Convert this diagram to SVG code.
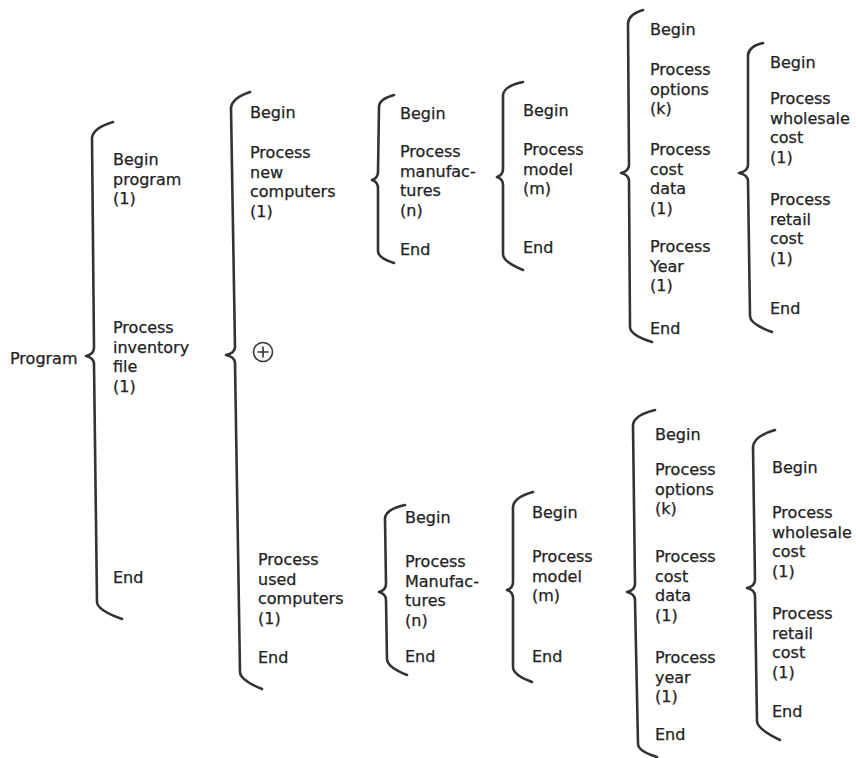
<svg xmlns="http://www.w3.org/2000/svg" width="856" height="758" viewBox="0 0 856 758">
<style>
.t { font-family: "DejaVu Sans", "Noto Sans", sans-serif; font-size: 16px; fill: #222; stroke: #222; stroke-width: 0.25; }
.b { fill: none; stroke: #333; stroke-width: 2.6; stroke-linecap: round; stroke-linejoin: round; }
.c { fill: none; stroke: #333; stroke-width: 1.6; }
</style>
<rect width="856" height="758" fill="#fff"/>
<g id="connectors">
<path class="b" d="M113,122 Q93,128 92,138 L94,348 Q94,354 86,356 Q94,358 94,364 L97,602 Q97,610 122,619"/>
<path class="b" d="M250,92 Q232,98 231,108 L235,347 Q235,353 226,355 Q235,357 235,363 L240,672 Q240,680 262,689"/>
<path class="b" d="M394,95 Q379,99 379,107 L378,172 Q378,178 372,180 Q378,182 378,188 L378,251 Q378,258 394,263"/>
<path class="b" d="M523,82 Q504,86 503,95 L503,169 Q503,175 497,177 Q503,179 503,185 L503,254 Q503,262 523,270"/>
<path class="b" d="M643,10 Q629,14 628,23 L629,165 Q629,171 621,173 Q629,175 629,181 L630,327 Q630,335 652,342"/>
<path class="b" d="M763,43 Q749,46 748,55 L748,165 Q748,171 739,173 Q748,175 748,181 L750,316 Q750,324 772,332"/>
<path class="b" d="M405,505 Q386,509 385,518 L386,584 Q386,590 379,592 Q386,594 386,600 L387,659 Q387,667 407,675"/>
<path class="b" d="M533,492 Q514,497 513,507 L513,582 Q513,588 507,590 Q513,592 513,598 L513,667 Q513,675 532,682"/>
<path class="b" d="M655,410 Q634,415 633,425 L635,584 Q635,590 627,592 Q635,594 635,600 L638,744 Q638,751 657,757"/>
<path class="b" d="M775,430 Q754,436 753,447 L755,580 Q755,586 747,588 Q755,590 755,596 L757,721 Q757,729 780,740"/>
</g>
<g id="program"><text class="t" x="10" y="364">Program</text></g>
<g id="begin-program"><text class="t" x="113" y="165">Begin<tspan x="113" dy="19.5">program</tspan><tspan x="113" dy="19.5">(1)</tspan></text></g>
<g id="process-inventory"><text class="t" x="113" y="333">Process<tspan x="113" dy="19.5">inventory</tspan><tspan x="113" dy="19.5">file</tspan><tspan x="113" dy="19.5">(1)</tspan></text></g>
<g id="end-program"><text class="t" x="113" y="583">End</text></g>
<g id="begin-inv"><text class="t" x="250" y="118">Begin</text></g>
<g id="process-new"><text class="t" x="250" y="158">Process<tspan x="250" dy="19.5">new</tspan><tspan x="250" dy="19.5">computers</tspan><tspan x="250" dy="19.5">(1)</tspan></text></g>
<g id="selection"><circle class="c" cx="263" cy="352" r="9.5"/><path class="c" d="M257.5,352 H268.5 M263,346.5 V357.5"/></g>
<g id="process-used"><text class="t" x="258" y="565">Process<tspan x="258" dy="19.5">used</tspan><tspan x="258" dy="19.5">computers</tspan><tspan x="258" dy="19.5">(1)</tspan></text></g>
<g id="end-inv"><text class="t" x="258" y="663">End</text></g>
<g id="new-manuf"><text class="t" x="400" y="119">Begin</text><text class="t" x="400" y="157">Process<tspan x="400" dy="19.5">manufac-</tspan><tspan x="400" dy="19.5">tures</tspan><tspan x="400" dy="19.5">(n)</tspan></text><text class="t" x="400" y="255">End</text></g>
<g id="new-model"><text class="t" x="523" y="116">Begin</text><text class="t" x="523" y="155">Process<tspan x="523" dy="19.5">model</tspan><tspan x="523" dy="19.5">(m)</tspan></text><text class="t" x="523" y="253">End</text></g>
<g id="new-options"><text class="t" x="650" y="35">Begin</text><text class="t" x="650" y="75">Process<tspan x="650" dy="19.5">options</tspan><tspan x="650" dy="19.5">(k)</tspan></text><text class="t" x="650" y="155">Process<tspan x="650" dy="19.5">cost</tspan><tspan x="650" dy="19.5">data</tspan><tspan x="650" dy="19.5">(1)</tspan></text><text class="t" x="650" y="252">Process<tspan x="650" dy="19.5">Year</tspan><tspan x="650" dy="19.5">(1)</tspan></text><text class="t" x="650" y="334">End</text></g>
<g id="new-cost"><text class="t" x="770" y="68">Begin</text><text class="t" x="770" y="104">Process<tspan x="770" dy="19.5">wholesale</tspan><tspan x="770" dy="19.5">cost</tspan><tspan x="770" dy="19.5">(1)</tspan></text><text class="t" x="770" y="205">Process<tspan x="770" dy="19.5">retail</tspan><tspan x="770" dy="19.5">cost</tspan><tspan x="770" dy="19.5">(1)</tspan></text><text class="t" x="770" y="314">End</text></g>
<g id="used-manuf"><text class="t" x="405" y="523">Begin</text><text class="t" x="405" y="567">Process<tspan x="405" dy="19.5">Manufac-</tspan><tspan x="405" dy="19.5">tures</tspan><tspan x="405" dy="19.5">(n)</tspan></text><text class="t" x="405" y="662">End</text></g>
<g id="used-model"><text class="t" x="532" y="518">Begin</text><text class="t" x="532" y="562">Process<tspan x="532" dy="19.5">model</tspan><tspan x="532" dy="19.5">(m)</tspan></text><text class="t" x="532" y="662">End</text></g>
<g id="used-options"><text class="t" x="655" y="440">Begin</text><text class="t" x="655" y="475">Process<tspan x="655" dy="19.5">options</tspan><tspan x="655" dy="19.5">(k)</tspan></text><text class="t" x="655" y="562">Process<tspan x="655" dy="19.5">cost</tspan><tspan x="655" dy="19.5">data</tspan><tspan x="655" dy="19.5">(1)</tspan></text><text class="t" x="655" y="663">Process<tspan x="655" dy="19.5">year</tspan><tspan x="655" dy="19.5">(1)</tspan></text><text class="t" x="655" y="740">End</text></g>
<g id="used-cost"><text class="t" x="772" y="473">Begin</text><text class="t" x="772" y="518">Process<tspan x="772" dy="19.5">wholesale</tspan><tspan x="772" dy="19.5">cost</tspan><tspan x="772" dy="19.5">(1)</tspan></text><text class="t" x="772" y="619">Process<tspan x="772" dy="19.5">retail</tspan><tspan x="772" dy="19.5">cost</tspan><tspan x="772" dy="19.5">(1)</tspan></text><text class="t" x="772" y="717">End</text></g>
</svg>
